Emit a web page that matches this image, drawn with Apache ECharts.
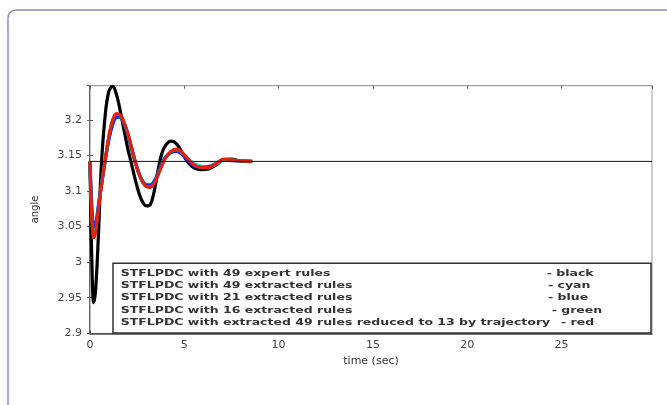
<!DOCTYPE html>
<html>
<head>
<meta charset="utf-8">
<script src="https://cdn.jsdelivr.net/npm/echarts@6/dist/echarts.min.js"></script>
<style>
  html, body { margin: 0; padding: 0; background: #fff; }
  #main { width: 667px; height: 405px; }
</style>
</head>
<body>
<div id="main"></div>
<script>
// time samples (sec) shared by all runs
var time = [0, 0.1, 0.2, 0.3, 0.45, 0.6, 0.8, 1.0, 1.2, 1.4, 1.6, 1.8, 2.0, 2.2, 2.4, 2.6, 2.8, 3.0, 3.2, 3.4,
            3.6, 3.8, 4.0, 4.3, 4.6, 4.9, 5.2, 5.5, 5.9, 6.3, 6.7, 7.1, 7.5, 8.0, 8.6];

var expert49 = [3.1416, 3.00, 2.943, 2.962, 3.04, 3.135, 3.205, 3.240, 3.247, 3.236, 3.213, 3.186, 3.160, 3.138, 3.116, 3.097, 3.084, 3.079, 3.081, 3.099,
                3.128, 3.152, 3.164, 3.170, 3.166, 3.153, 3.140, 3.133, 3.130, 3.131, 3.137, 3.144, 3.145, 3.142, 3.1416];
var extracted49 = [3.1416, 3.07, 3.046, 3.05, 3.078, 3.107, 3.141, 3.172, 3.193, 3.203, 3.204, 3.196, 3.181, 3.162, 3.142, 3.126, 3.114, 3.109, 3.109, 3.114,
                   3.125, 3.138, 3.148, 3.155, 3.157, 3.153, 3.146, 3.139, 3.135, 3.134, 3.138, 3.143, 3.143, 3.142, 3.1416];
var extracted21 = [3.1416, 3.075, 3.05, 3.053, 3.08, 3.108, 3.142, 3.173, 3.194, 3.204, 3.204, 3.195, 3.180, 3.160, 3.140, 3.124, 3.113, 3.108, 3.108, 3.113,
                   3.124, 3.137, 3.147, 3.154, 3.156, 3.151, 3.143, 3.136, 3.133, 3.134, 3.139, 3.144, 3.143, 3.142, 3.1416];
var extracted16 = [3.1416, 3.062, 3.036, 3.044, 3.077, 3.107, 3.143, 3.177, 3.199, 3.208, 3.206, 3.196, 3.181, 3.161, 3.141, 3.124, 3.112, 3.106, 3.106, 3.111,
                   3.122, 3.135, 3.146, 3.155, 3.158, 3.153, 3.145, 3.137, 3.133, 3.133, 3.139, 3.144, 3.144, 3.142, 3.1416];
var reduced13 = [3.1416, 3.06, 3.034, 3.042, 3.075, 3.105, 3.143, 3.178, 3.200, 3.209, 3.207, 3.197, 3.182, 3.162, 3.141, 3.124, 3.112, 3.106, 3.105, 3.110,
                 3.122, 3.135, 3.146, 3.156, 3.159, 3.154, 3.145, 3.137, 3.133, 3.133, 3.139, 3.145, 3.144, 3.142, 3.1416];

var target = 3.1416;

var legendNames = ['STFLPDC with 49 expert rules',
                   'STFLPDC with 49 extracted rules',
                   'STFLPDC with 21 extracted rules',
                   'STFLPDC with 16 extracted rules',
                   'STFLPDC with extracted 49 rules reduced to 13 by trajectory'];
var colourWords = ['black', 'cyan', 'blue', 'green', 'red'];

function pairs(ys) {
    return time.map(function (t, i) { return [t, ys[i]]; });
}

var myChart = echarts.init(document.getElementById('main'));

var font = 'DejaVu Sans';
var lineSeries = function (name, ys, color, width) {
    return {
        name: name, type: 'line', data: pairs(ys), smooth: 0.4,
        symbol: 'none', lineStyle: { color: color, width: width }
    };
};

// legend box drawn as text, stretched like the source image
var legendItems = [{
    type: 'rect', z: 100,
    shape: { x: 113, y: 263.3, width: 538, height: 69.7 },
    style: { fill: '#fff', stroke: '#333', lineWidth: 1.5 }
}];
var rowY = [273.3, 285.6, 298, 310.5, 322.8];
var rightX = [546.7, 548, 548, 551.7, 561];
legendNames.forEach(function (n, i) {
    legendItems.push({
        type: 'text', z: 101, x: 120.7, y: rowY[i], scaleX: 1.39,
        style: { text: n, font: 'bold 9px "DejaVu Sans"', fill: '#333', verticalAlign: 'middle' }
    });
    legendItems.push({
        type: 'text', z: 101, x: rightX[i], y: rowY[i], scaleX: 1.39,
        style: { text: '- ' + colourWords[i], font: 'bold 9px "DejaVu Sans"', fill: '#333', verticalAlign: 'middle' }
    });
});

option = {
    backgroundColor: '#ffffff',
    animation: false,
    graphic: [{
        type: 'rect', z: -1,
        shape: { x: 8, y: 10, width: 700, height: 450, r: 8 },
        style: { fill: 'none', stroke: '#8c8cbf', lineWidth: 1.5 }
    }].concat(legendItems),
    grid: { left: 90, right: 15, top: 85.7, bottom: 71.7, show: true, borderColor: '#999', borderWidth: 1 },
    xAxis: [{
        type: 'value', min: 0, max: 29.8, interval: 5,
        name: 'time (sec)', nameLocation: 'middle', nameGap: 19,
        nameTextStyle: { fontFamily: font, fontSize: 11, color: '#333' },
        axisLine: { lineStyle: { color: '#444', width: 1.5 } },
        axisTick: { inside: true, length: 3, lineStyle: { color: '#555' } },
        axisLabel: { margin: 6, showMaxLabel: false, fontFamily: font, fontSize: 11, color: '#444' },
        splitLine: { show: false }
    }, {
        type: 'value', min: 0, max: 29.8, interval: 5, position: 'top',
        axisLine: { lineStyle: { color: '#999' } },
        axisTick: { inside: true, length: 3, lineStyle: { color: '#666' } },
        axisLabel: { show: false }, splitLine: { show: false }
    }],
    yAxis: [{
        type: 'value', min: 2.9, max: 3.248, interval: 0.05,
        name: 'angle', nameLocation: 'middle', nameGap: 50,
        nameTextStyle: { fontFamily: font, fontSize: 10, color: '#333' },
        axisLine: { lineStyle: { color: '#444', width: 1.5 } },
        axisTick: { inside: true, length: 3, lineStyle: { color: '#555' } },
        axisLabel: { margin: 8, showMaxLabel: false, fontFamily: font, fontSize: 11, color: '#444' },
        splitLine: { show: false }
    }, {
        type: 'value', min: 2.9, max: 3.248, interval: 0.05, position: 'right',
        axisLine: { lineStyle: { color: '#bbb' } },
        axisTick: { inside: true, length: 3, lineStyle: { color: '#666' } },
        axisLabel: { show: false }, splitLine: { show: false }
    }],
    series: [
        lineSeries(legendNames[0], expert49, '#000000', 3.2),
        lineSeries(legendNames[1], extracted49, '#00e5e5', 3),
        lineSeries(legendNames[2], extracted21, '#1a1aff', 3.5),
        lineSeries(legendNames[3], extracted16, '#00c000', 3),
        lineSeries(legendNames[4], reduced13, '#ee1c10', 3),
        {
            name: 'target', type: 'line', symbol: 'none',
            data: [[0, target], [29.8, target]],
            lineStyle: { color: '#111', width: 1 }
        }
    ]
};
myChart.setOption(option);
</script>
</body>
</html>
